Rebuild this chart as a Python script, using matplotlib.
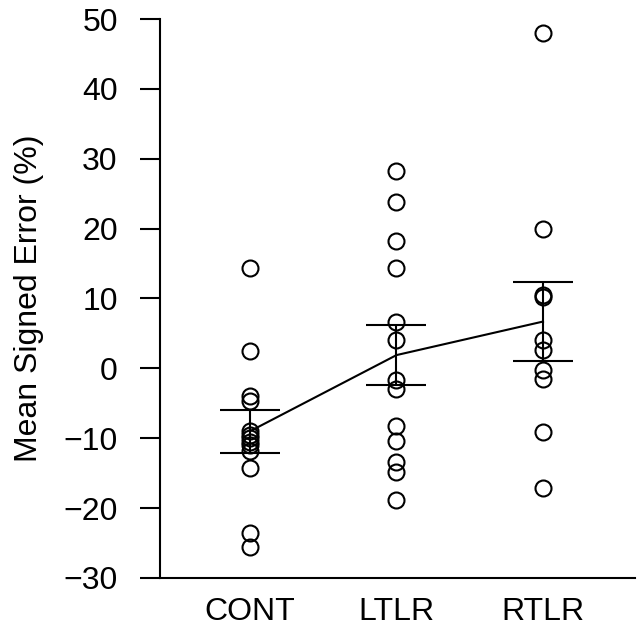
import numpy as np
import matplotlib
matplotlib.use("Agg")
import matplotlib.pyplot as plt

plt.rcParams['font.family'] = ['Liberation Sans', 'DejaVu Sans']

groups = ["CONT", "LTLR", "RTLR"]
cont = [14.4, 2.5, -3.9, -4.6, -9.0, -9.5, -10.0, -10.5, -11.0, -11.8, -14.3, -23.6, -25.6]
ltlr = [28.3, 23.8, 18.2, 14.4, 6.6, 4.1, -1.7, -3.0, -8.2, -10.4, -13.4, -14.8, -18.9]
rtlr = [48.0, 20.0, 10.5, 10.2, 4.0, 2.6, -0.3, -1.5, -9.1, -17.1]
group_means = [-9.0, 1.9, 6.7]
group_se = [3.1, 4.3, 5.6]
y_ticks = [-30, -20, -10, 0, 10, 20, 30, 40, 50]

fig = plt.figure(figsize=(6.43, 6.42), dpi=100)
ax = fig.add_axes([0.2488, 0.0997, 0.7388, 0.8707])

xpos = np.arange(1, len(groups) + 1)
for x, vals in zip(xpos, [cont, ltlr, rtlr]):
    ax.plot([x] * len(vals), vals, linestyle="none", marker="o", markersize=11.5,
            markerfacecolor="none", markeredgecolor="black", markeredgewidth=1.5,
            clip_on=False, zorder=3)

ax.errorbar(xpos, group_means, yerr=group_se, color="black", linewidth=1.5,
            elinewidth=1.5, capsize=21.6, capthick=1.5, zorder=4)

ax.set_xlim(0.386, 3.628)
ax.set_ylim(-30, 50)
ax.set_yticks(y_ticks)
ax.set_yticklabels([str(t).replace("-", "\u2212") for t in y_ticks])
ax.set_xticks(xpos)
ax.set_xticklabels(groups)

ax.spines['top'].set_visible(False)
ax.spines['right'].set_visible(False)
for s in ['left', 'bottom']:
    ax.spines[s].set_linewidth(1.5)

ax.tick_params(axis='y', length=14.4, width=1.5, pad=16, labelsize=23)
ax.tick_params(axis='x', length=0, pad=14, labelsize=23)
ax.set_ylabel("Mean Signed Error (%)", fontsize=23, labelpad=14)

fig.savefig("out.png", dpi=100)
